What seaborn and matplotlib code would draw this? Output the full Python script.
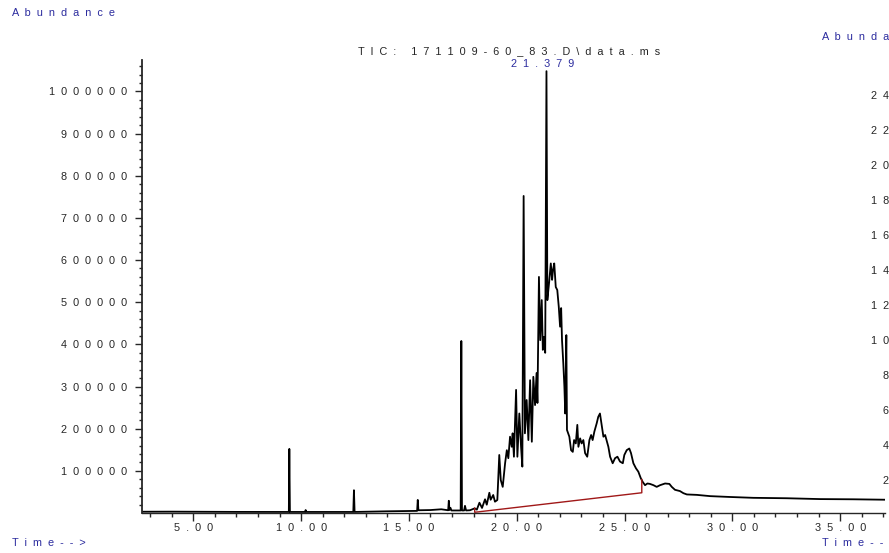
import numpy as np
import pandas as pd
import matplotlib
matplotlib.use('Agg')
import matplotlib.pyplot as plt
import matplotlib.transforms as mtransforms
import seaborn as sns

# ---------------- data ----------------
# early part: flat baseline with a few sharp spikes
early_t = [2.62, 4.0, 5.5, 7.0, 8.5, 9.43, 9.453, 9.48, 10.18, 10.21, 10.24,
           12.42, 12.45, 12.48, 13.97, 15.38, 15.41, 15.44, 16.0, 16.5, 16.82,
           16.85, 16.88, 16.93, 16.97, 17.40, 17.43, 17.46, 17.56, 17.60, 17.65, 17.83]
early_a = [3000, 3200, 2800, 2600, 2500, 2500, 152000, 2500, 2500, 7000, 2500,
           2500, 54000, 2500, 4000, 5000, 31000, 6500, 7000, 8800, 6500,
           29000, 7000, 12000, 6000, 6000, 408000, 6000, 6000, 17000, 6000, 6500]

# main hump 18 - 26 min
hump_t = [18.05, 18.15, 18.27, 18.39, 18.53, 18.61, 18.73, 18.79, 18.91, 18.99,
          19.10, 19.19, 19.26, 19.35, 19.46, 19.54, 19.61, 19.69, 19.77, 19.81,
          19.87, 19.97, 20.03, 20.12, 20.20, 20.26, 20.32, 20.38, 20.46, 20.54,
          20.62, 20.70, 20.77, 20.85, 20.92, 20.96, 21.03, 21.09, 21.16, 21.21,
          21.27, 21.32, 21.379, 21.42, 21.50, 21.58, 21.64, 21.68, 21.74, 21.81,
          21.88, 21.95, 22.01, 22.06, 22.10, 22.16, 22.21, 22.25, 22.30, 22.33,
          22.44, 22.52, 22.60, 22.66, 22.74, 22.81, 22.86, 22.94, 23.01, 23.09,
          23.17, 23.27, 23.37, 23.45, 23.52, 23.60, 23.71, 23.78, 23.86, 23.94,
          24.02, 24.10, 24.25, 24.33, 24.45, 24.56, 24.67, 24.79, 24.92, 24.99,
          25.10, 25.22, 25.30, 25.41, 25.53, 25.64, 25.75, 25.84, 25.95]
hump_a = [11000, 8000, 24400, 12000, 32500, 19700, 48000, 31500, 42700, 26800,
          30800, 137600, 78000, 62000, 118000, 149000, 130000, 181000, 157000, 189000,
          133500, 292000, 133500, 236000, 157000, 110000, 752000, 189000, 268000, 173000,
          315000, 169000, 323000, 256000, 332000, 261000, 560000, 410000, 505000, 387000,
          418000, 380000, 1048000, 505000, 546000, 592000, 553000, 576000, 592000, 536000,
          529000, 489000, 442000, 486000, 410000, 355000, 300000, 236000, 422000, 197000,
          181000, 149000, 145000, 173000, 165000, 209000, 157000, 177000, 165000, 173000,
          142000, 133500, 173000, 185000, 173000, 193000, 213000, 228000, 236000, 209000,
          181000, 185000, 157000, 133500, 118000, 130000, 133500, 122000, 118000, 137600,
          149000, 153000, 142000, 118000, 106000, 98000, 83000, 74000, 66000]

# slow tail to the end of the run
tail_t = [26.06, 26.18, 26.34, 26.49, 26.65, 26.88, 27.08, 27.19, 27.34, 27.57,
          27.73, 27.89, 28.35, 28.97, 29.89, 30.97, 32.52, 34.07, 35.61, 37.08]
tail_a = [70000, 69000, 66000, 62000, 66000, 70000, 69000, 62000, 55000, 52000,
          47000, 44000, 43000, 40000, 38000, 36000, 35000, 33000, 32500, 31500]

# integration baseline (red)
base_t = [18.05, 18.05, 25.80, 25.80]
base_a = [12000, 1700, 48000, 80000]

peak_label = 21.379
title = 'TIC: 171109-60_83.D\\data.ms'
y_major = list(range(100000, 1000001, 100000))
x_major = [5, 10, 15, 20, 25, 30, 35]
right_ticks = [240000, 220000, 200000, 180000, 160000, 140000,
               120000, 100000, 80000, 60000, 40000, 20000]

df = pd.DataFrame({'Time': early_t + hump_t + tail_t,
                   'Abundance': early_a + hump_a + tail_a})

blue = '#2b2b9e'
font = 7.8

sns.set_style('ticks')
plt.rcParams['font.family'] = ['Liberation Sans', 'DejaVu Sans']
plt.rcParams['font.size'] = font


def spaced(s):
    # the instrument software draws text with wide letter spacing
    return '  '.join(s)


W, H = 889, 553
fig = plt.figure(figsize=(W / 100, H / 100), dpi=100)
ax = fig.add_axes([142 / W, 1 - 513 / H, (885 - 142) / W, (513 - 60) / H])

sns.lineplot(data=df, x='Time', y='Abundance', color='black', lw=1.3,
             estimator=None, sort=False, ax=ax)
ax.plot(base_t, base_a, color='#a01818', lw=1.0)

ax.set_xlim(2.62, 37.08)
ax.set_ylim(0, 1074500)
ax.set_xlabel('')
ax.set_ylabel('')

for s in ['top', 'right']:
    ax.spines[s].set_visible(False)
ax.spines['left'].set_linewidth(1.3)
ax.spines['bottom'].set_linewidth(1.0)

ax.set_yticks(y_major)
ax.set_yticklabels([spaced(str(v)) for v in y_major])
ax.set_yticks(np.arange(20000, 1070000, 20000), minor=True)
ax.set_xticks(x_major)
ax.set_xticklabels([spaced('%.2f' % v) for v in x_major])
ax.set_xticks(np.arange(3, 38, 1), minor=True)

ax.tick_params(axis='y', which='major', direction='out', length=5, width=1, pad=6, labelsize=font)
ax.tick_params(axis='y', which='minor', direction='out', length=2.5, width=1)
ax.tick_params(axis='x', which='major', direction='out', length=6, width=1, pad=1.5, labelsize=font)
ax.tick_params(axis='x', which='minor', direction='out', length=3, width=1)

# peak label and title
trans = mtransforms.blended_transform_factory(ax.transData, fig.transFigure)
shift = mtransforms.ScaledTranslation(-4 / 100, 0, fig.dpi_scale_trans)
ax.text(peak_label, 1 - 64 / H, spaced('%.3f' % peak_label), color=blue,
        ha='center', va='center', transform=trans + shift, fontsize=font)
fig.text(509 / W, 1 - 51 / H, spaced(title), ha='center', va='center', fontsize=font)

# axis captions
fig.text(12 / W, 1 - 13 / H, spaced('Abundance'), color=blue, ha='left', va='center', fontsize=font)
fig.text(12 / W, 1 - 543 / H, spaced('Time-->'), color=blue, ha='left', va='center', fontsize=font)

# pieces of the neighbouring panel that run off the right edge (cut in the reference too)
fig.text(822 / W, 1 - 37 / H, spaced('Abundance'), color=blue, ha='left', va='center', fontsize=font)
fig.text(822 / W, 1 - 543 / H, spaced('Time-->'), color=blue, ha='left', va='center', fontsize=font)
for i, v in enumerate(right_ticks):
    fig.text(937 / W, 1 - (96 + 35 * i) / H, spaced(str(v)), ha='right', va='center', fontsize=font)

fig.savefig('out.png', dpi=100)
